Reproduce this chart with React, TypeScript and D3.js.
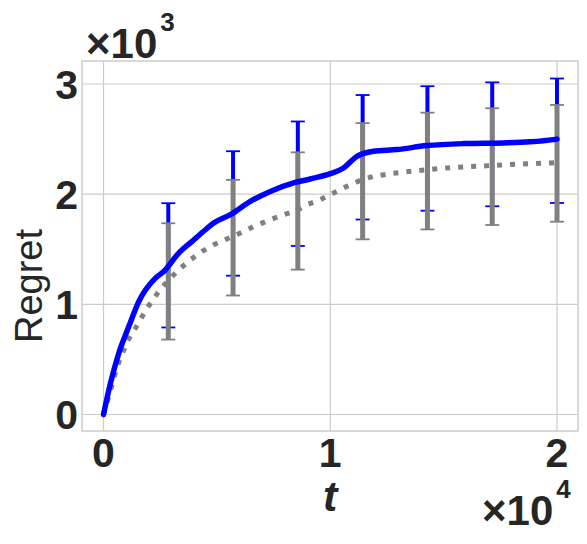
import { useEffect, useRef } from "react";
import * as d3 from "d3";

// blue solid curve (t, regret)
const blueT = [0, 308, 674, 1115, 1555, 2291, 2656, 3317, 3907, 4493, 4859, 5595, 6476, 7357, 8383, 9119, 10000, 10586, 11176, 11907, 12938, 14260, 15872, 17634, 18811, 19837, 20000];
const blueR = [0, 284, 556, 798, 1025, 1238, 1298, 1465, 1571, 1677, 1738, 1814, 1935, 2025, 2102, 2138, 2186, 2238, 2344, 2389, 2405, 2441, 2459, 2465, 2475, 2495, 2500];

// gray dotted curve
const grayT = [0, 233, 604, 1044, 1410, 1705, 2070, 2436, 2877, 3317, 3833, 4348, 4859, 6035, 6621, 7811, 8533, 8974, 9559, 10145, 10736, 11396, 11907, 12643, 13819, 15141, 16463, 17784, 19692, 20000];
const grayR = [0, 162, 435, 662, 784, 889, 1011, 1116, 1223, 1314, 1405, 1480, 1541, 1647, 1707, 1805, 1853, 1905, 1950, 2011, 2071, 2132, 2162, 2186, 2214, 2238, 2253, 2268, 2284, 2288];

// error bars
const errT = [2857, 5714, 8571, 11428, 14286, 17143, 20000];
const blueLo = [790, 1260, 1530, 1770, 1850, 1890, 1920];
const blueHi = [1918, 2390, 2660, 2900, 2980, 3015, 3050];
const grayLo = [680, 1080, 1315, 1590, 1680, 1720, 1750];
const grayHi = [1736, 2130, 2380, 2645, 2740, 2780, 2810];

const xTicks = [0, 10000, 20000];
const yTicks = [0, 1000, 2000, 3000];

const W = 587, H = 544;
const left = 82, right = 578, top = 61, bottom = 431;
const ink = "#262626";
const font = "'Liberation Sans', Arial, sans-serif";

export default function App() {
  const ref = useRef<SVGSVGElement>(null);

  useEffect(() => {
    const svg = d3.select(ref.current);
    svg.selectAll("*").remove();

    const x = d3.scaleLinear().domain([-948, 20926]).range([left, right]);
    const y = d3.scaleLinear().domain([-150, 3209]).range([bottom, top]);

    const g = svg.append("g");

    // grid
    g.selectAll(".gx").data(xTicks).enter().append("line")
      .attr("x1", d => x(d)).attr("x2", d => x(d))
      .attr("y1", top).attr("y2", bottom)
      .attr("stroke", "#cccccc").attr("stroke-width", 1.2);
    g.selectAll(".gy").data(yTicks).enter().append("line")
      .attr("y1", d => y(d)).attr("y2", d => y(d))
      .attr("x1", left).attr("x2", right)
      .attr("stroke", "#cccccc").attr("stroke-width", 1.2);

    // error bars: blue first, gray on top
    function bars(lo: number[], hi: number[], color: string, w: number) {
      errT.forEach((t, i) => {
        g.append("line")
          .attr("x1", x(t)).attr("x2", x(t))
          .attr("y1", y(lo[i])).attr("y2", y(hi[i]))
          .attr("stroke", color).attr("stroke-width", w);
        [lo[i], hi[i]].forEach(v => {
          g.append("line")
            .attr("x1", x(t) - 7).attr("x2", x(t) + 7)
            .attr("y1", y(v)).attr("y2", y(v))
            .attr("stroke", color).attr("stroke-width", 1.8);
        });
      });
    }
    bars(blueLo, blueHi, "#0000ff", 4);
    bars(grayLo, grayHi, "#808080", 5);

    const line = d3.line<number>();

    g.append("path")
      .attr("d", line(grayT.map((t, i) => [x(t), y(grayR[i])] as [number, number])))
      .attr("fill", "none").attr("stroke", "#808080")
      .attr("stroke-width", 5).attr("stroke-dasharray", "5,8");

    g.append("path")
      .attr("d", d3.line().curve(d3.curveMonotoneX)(blueT.map((t, i) => [x(t), y(blueR[i])] as [number, number])))
      .attr("fill", "none").attr("stroke", "#0000ff")
      .attr("stroke-width", 5.5).attr("stroke-linejoin", "round").attr("stroke-linecap", "round");

    // frame
    g.append("rect")
      .attr("x", left).attr("y", top)
      .attr("width", right - left).attr("height", bottom - top)
      .attr("fill", "none").attr("stroke", "#cccccc").attr("stroke-width", 1.5);

    // tick labels
    g.selectAll(".xt").data(xTicks).enter().append("text")
      .attr("x", d => x(d)).attr("y", 467)
      .attr("text-anchor", "middle")
      .attr("font-family", font).attr("font-weight", "bold").attr("font-size", 41)
      .attr("fill", ink)
      .text(d => d / 10000);
    g.selectAll(".yt").data(yTicks).enter().append("text")
      .attr("x", 78).attr("y", d => y(d) + 15)
      .attr("text-anchor", "end")
      .attr("font-family", font).attr("font-weight", "bold").attr("font-size", 41)
      .attr("fill", ink)
      .text(d => d / 1000);

    // axis labels
    g.append("text")
      .attr("x", x(10000)).attr("y", 511)
      .attr("text-anchor", "middle")
      .attr("font-family", font).attr("font-weight", "bold").attr("font-style", "italic")
      .attr("font-size", 43).attr("fill", ink)
      .text("t");
    g.append("text")
      .attr("transform", `translate(42,286) rotate(-90)`)
      .attr("text-anchor", "middle")
      .attr("font-family", font).attr("font-size", 38).attr("fill", ink)
      .text("Regret");

    // offset texts
    const off = (tx: number, ty: number, exp: string) => {
      const t = g.append("text")
        .attr("x", tx).attr("y", ty)
        .attr("font-family", font).attr("font-weight", "bold").attr("fill", ink);
      t.append("tspan").attr("font-size", 42).text("×10");
      t.append("tspan").attr("font-size", 26).attr("dy", -27).attr("dx", 3).text(exp);
    };
    off(86, 58, "3");
    off(482, 525, "4");
  }, []);

  return (
    <svg ref={ref} width={W} height={H}
      style={{ position: "absolute", left: 0, top: 0, background: "#fff" }} />
  );
}
